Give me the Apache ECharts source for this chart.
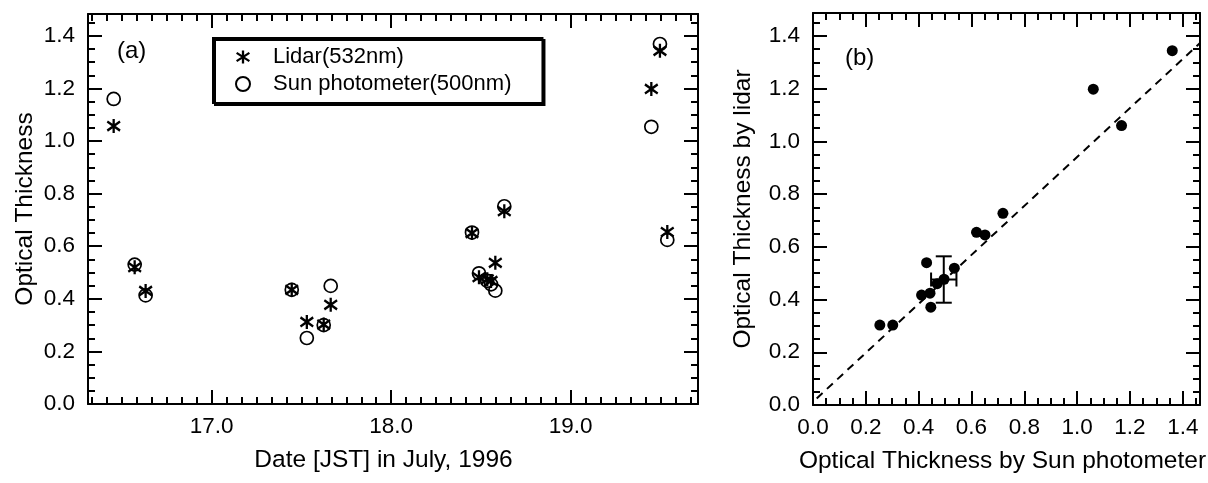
<!DOCTYPE html>
<html><head><meta charset="utf-8">
<script src="https://cdn.jsdelivr.net/npm/echarts@6/dist/echarts.min.js"></script>
<style>html,body{margin:0;padding:0;background:#fff}#c{width:1208px;height:483px}</style>
</head><body><div id="c"></div>
<script>
// ---- data ----
const timesA = [16.454, 16.571, 16.632, 17.446, 17.530, 17.624, 17.663, 18.450, 18.489, 18.535, 18.556, 18.580, 18.630, 19.449, 19.497, 19.538];
const lidarA = [1.057, 0.520, 0.430, 0.434, 0.312, 0.302, 0.377, 0.650, 0.482, 0.474, 0.468, 0.537, 0.733, 1.198, 1.343, 0.654];
const sunA   = [1.160, 0.530, 0.413, 0.434, 0.251, 0.300, 0.449, 0.652, 0.497, 0.468, 0.455, 0.431, 0.752, 1.054, 1.369, 0.624];

const sunB   = [0.253, 0.302, 0.411, 0.430, 0.443, 0.446, 0.470, 0.496, 0.535, 0.619, 0.651, 0.719, 1.061, 1.168, 1.360];
const lidarB = [0.303, 0.303, 0.417, 0.540, 0.424, 0.371, 0.460, 0.477, 0.519, 0.655, 0.645, 0.727, 1.198, 1.060, 1.344];

const fitX = [0.014, 1.464];
const fitY = [0.025, 1.372];
const errCenter = [0.495, 0.476];
const errHalf = [0.048, 0.088];

const xTicksA = [17.0, 18.0, 19.0];
const xTicksB = [0.0, 0.2, 0.4, 0.6, 0.8, 1.0, 1.2, 1.4];
const yTicks  = [0.0, 0.2, 0.4, 0.6, 0.8, 1.0, 1.2, 1.4];

const FONT = 'Liberation Sans';

function minorRange(min, max, step) {
  const out = [];
  for (let k = Math.ceil(min / step - 1e-9); k * step <= max + 1e-9; k++) out.push(+(k * step).toFixed(6));
  return out;
}
function bar(x1, y1, x2, y2, w) {
  const dx = x2 - x1, dy = y2 - y1, L = Math.hypot(dx, dy);
  const nx = -dy / L * w / 2, ny = dx / L * w / 2;
  const p = [[x1 + nx, y1 + ny], [x2 + nx, y2 + ny], [x2 - nx, y2 - ny], [x1 - nx, y1 - ny]];
  return 'M' + p.map(q => q[0].toFixed(2) + ',' + q[1].toFixed(2)).join('L') + 'Z';
}
const starPath = 'path://' + bar(10, 0, 10, 20, 3.6) + bar(0, 3.5, 20, 16.5, 3.6) + bar(0, 16.5, 20, 3.5, 3.6);

function mkAxes(dim, grid, min, max, major, minor, opt) {
  const p1 = dim === 'x' ? 'bottom' : 'left';
  const p2 = dim === 'x' ? 'top' : 'right';
  const base = { type: 'value', gridIndex: grid, min: min, max: max, splitLine: { show: false }, axisPointer: { show: false } };
  const line = { show: true, onZero: false, lineStyle: { color: '#000', width: 2 } };
  const noLine = { show: false, onZero: false };
  const tick = (vals, len) => ({ show: true, inside: true, length: len, customValues: vals, lineStyle: { color: '#000', width: 2 } });
  return [
    Object.assign({}, base, {
      position: p1, axisLine: line, axisTick: tick(major, 14),
      axisLabel: { show: true, customValues: major, formatter: v => v.toFixed(1), color: '#000', fontFamily: FONT, fontSize: 22.5, margin: opt.margin },
      name: opt.name, nameLocation: 'middle', nameGap: opt.nameGap, nameMoveOverlap: false,
      nameTextStyle: { color: '#000', fontFamily: FONT, fontSize: 24.5, padding: opt.namePad || 0 }
    }),
    Object.assign({}, base, { position: p1, axisLine: noLine, axisTick: tick(minor, 7), axisLabel: { show: false } }),
    Object.assign({}, base, { position: p2, axisLine: line, axisTick: tick(major, 14), axisLabel: { show: false } }),
    Object.assign({}, base, { position: p2, axisLine: noLine, axisTick: tick(minor, 7), axisLabel: { show: false } })
  ];
}

const xMinA = 16.311, xMaxA = 19.709, yMaxA = 1.483;
const xMaxB = 1.465, yMaxB = 1.487;

const xAxes = [].concat(
  mkAxes('x', 0, xMinA, xMaxA, xTicksA, minorRange(xMinA, xMaxA, 1 / 12), { name: 'Date [JST] in July, 1996', nameGap: 44, margin: 11, namePad: [0, 19, 0, 0] }),
  mkAxes('x', 1, 0, xMaxB, xTicksB, minorRange(0, xMaxB, 0.05), { name: 'Optical Thickness by Sun photometer', nameGap: 44, margin: 11, namePad: [0, 8, 0, 0] })
);
const yAxes = [].concat(
  mkAxes('y', 0, 0, yMaxA, yTicks, minorRange(0, yMaxA, 0.05), { name: 'Optical Thickness', nameGap: 50, margin: 13 }),
  mkAxes('y', 1, 0, yMaxB, yTicks, minorRange(0, yMaxB, 0.05), { name: 'Optical Thickness by lidar', nameGap: 57, margin: 13 })
);

const chart = echarts.init(document.getElementById('c'), null, { renderer: 'canvas' });
chart.setOption({
  animation: false,
  backgroundColor: '#fff',
  grid: [
    { left: 88, top: 14, width: 610, height: 390, outerBoundsMode: 'none', containLabel: false },
    { left: 813, top: 13, width: 387, height: 392, outerBoundsMode: 'none', containLabel: false }
  ],
  xAxis: xAxes,
  yAxis: yAxes,
  legend: {
    left: 213, top: 38, orient: 'vertical', selectedMode: false,
    data: ['Lidar(532nm)', 'Sun photometer(500nm)'],
    itemWidth: 14, itemHeight: 14, itemGap: 5,
    padding: [8, 31, 8, 22],
    backgroundColor: '#fff', borderColor: '#000', borderWidth: 2, borderRadius: 0,
    shadowColor: '#000', shadowOffsetX: 2, shadowOffsetY: 2, shadowBlur: 0,
    textStyle: { fontFamily: FONT, fontSize: 22, color: '#000', padding: [0, 0, 0, 18] }
  },
  graphic: [
    { type: 'text', left: 117, top: 39, style: { text: '(a)', font: '24px "Liberation Sans"', fill: '#000' } },
    { type: 'text', left: 845, top: 46, style: { text: '(b)', font: '24px "Liberation Sans"', fill: '#000' } }
  ],
  series: [
    {
      name: 'Lidar(532nm)', type: 'scatter', xAxisIndex: 0, yAxisIndex: 0,
      symbol: starPath, symbolSize: [14, 14],
      itemStyle: { color: '#000', opacity: 1 }, z: 3,
      data: timesA.map((t, i) => [t, lidarA[i]])
    },
    {
      name: 'Sun photometer(500nm)', type: 'scatter', xAxisIndex: 0, yAxisIndex: 0,
      symbol: 'circle', symbolSize: 13,
      itemStyle: { color: 'rgba(255,255,255,0)', borderColor: '#000', borderWidth: 1.7, opacity: 1 }, z: 4,
      data: timesA.map((t, i) => [t, sunA[i]])
    },
    {
      name: 'fit', type: 'line', xAxisIndex: 4, yAxisIndex: 4,
      showSymbol: false, symbol: 'none',
      lineStyle: { color: '#000', width: 2, type: [8, 6] },
      data: fitX.map((x, i) => [x, fitY[i]]), z: 2
    },
    {
      name: 'comparison', type: 'scatter', xAxisIndex: 4, yAxisIndex: 4,
      symbol: 'circle', symbolSize: 11, itemStyle: { color: '#000', opacity: 1 }, z: 3,
      data: sunB.map((x, i) => [x, lidarB[i]])
    },
    {
      name: 'error', type: 'custom', xAxisIndex: 4, yAxisIndex: 4, z: 4,
      encode: { x: 0, y: 1 },
      data: [[errCenter[0], errCenter[1], errHalf[0], errHalf[1]]],
      renderItem: function (params, api) {
        const cx = api.value(0), cy = api.value(1), hx = api.value(2), hy = api.value(3);
        const t = api.coord([cx, cy + hy]), b = api.coord([cx, cy - hy]);
        const l = api.coord([cx - hx, cy]), r = api.coord([cx + hx, cy]);
        const cw = 8, ch = 7;
        const style = { stroke: '#000', lineWidth: 2, fill: null };
        const ln = (x1, y1, x2, y2) => ({ type: 'line', shape: { x1, y1, x2, y2 }, style });
        return {
          type: 'group', children: [
            ln(t[0], t[1], b[0], b[1]),
            ln(t[0] - cw, t[1], t[0] + cw, t[1]),
            ln(b[0] - cw, b[1], b[0] + cw, b[1]),
            ln(l[0], l[1], r[0], r[1]),
            ln(l[0], l[1] - ch, l[0], l[1] + ch),
            ln(r[0], r[1] - ch, r[0], r[1] + ch)
          ]
        };
      }
    }
  ]
});
</script></body></html>
